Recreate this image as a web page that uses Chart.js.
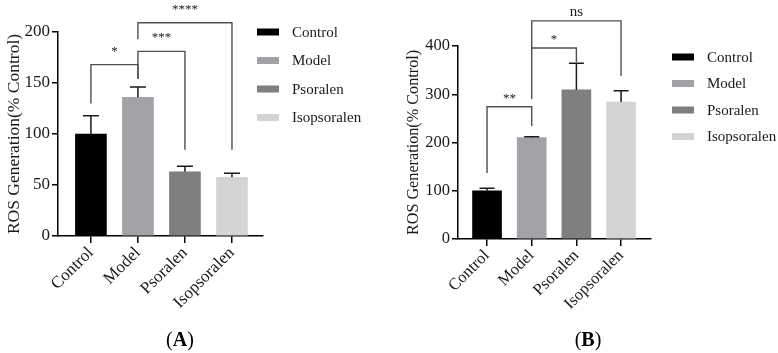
<!DOCTYPE html>
<html lang="en">
<head>
  <meta charset="UTF-8" />
  <title>ROS Generation</title>
  <script src="https://cdn.jsdelivr.net/npm/chart.js"></script>
  <style>
    body { margin: 0; background: #fff; }
    .wrap { display: flex; width: 778px; height: 353px; }
    canvas { display: block; }
  </style>
</head>
<body>
  <div class="wrap">
    <canvas id="chartA" width="389" height="353"></canvas>
    <canvas id="chartB" width="389" height="353"></canvas>
  </div>

  <script>
    // groups (same in both panels)
    const categories = ['Control', 'Model', 'Psoralen', 'Isopsoralen'];
    const barColors = ['#000000', '#a2a2a7', '#7f7f7f', '#d4d4d4'];

    // panel A: mean values and top of error bars
    const rosA = [100, 136, 63, 57.5];
    const errTopA = [118, 146, 68.5, 61.5];
    const yTicksA = [0, 50, 100, 150, 200];
    // significance brackets: from group, to group, bar level, left leg end, right leg end
    const sigA = [
      { from: 0, to: 1, level: 168, leftEnd: 130, rightEnd: 154, label: '*' },
      { from: 1, to: 2, level: 181, leftEnd: 154, rightEnd: 84.5, label: '***' },
      { from: 1, to: 3, level: 209, leftEnd: 193, rightEnd: 84.5, label: '****' }
    ];

    // panel B
    const rosB = [100, 210, 309, 284];
    const errTopB = [105, 212, 364, 307];
    const yTicksB = [0, 100, 200, 300, 400];
    const sigB = [
      { from: 0, to: 1, level: 274, leftEnd: 137, rightEnd: 234, label: '**' },
      { from: 1, to: 2, level: 396, leftEnd: 290, rightEnd: 367, label: '*' },
      { from: 1, to: 3, level: 452, leftEnd: 396, rightEnd: 338, label: 'ns' }
    ];

    const serif = "'Liberation Serif', 'Times New Roman', serif";
    const ink = '#1a1a1a';

    const extrasPlugin = {
      id: 'extras',
      afterDatasetsDraw(chart) {
        const o = chart.options.plugins.extras;
        const { ctx } = chart;
        const xs = chart.scales.x, ys = chart.scales.y;
        ctx.save();
        ctx.strokeStyle = ink;
        ctx.lineWidth = 1.5;
        o.errTop.forEach((top, i) => {
          const x = xs.getPixelForValue(i);
          const y1 = ys.getPixelForValue(o.values[i]);
          const y2 = ys.getPixelForValue(top);
          ctx.beginPath();
          ctx.moveTo(x, y1);
          ctx.lineTo(x, y2);
          ctx.moveTo(x - o.capWidth / 2, y2);
          ctx.lineTo(x + o.capWidth / 2, y2);
          ctx.stroke();
        });
        ctx.restore();
      },
      afterDraw(chart) {
        const o = chart.options.plugins.extras;
        const { ctx } = chart;
        const xs = chart.scales.x, ys = chart.scales.y;
        ctx.save();

        // significance brackets
        ctx.strokeStyle = '#505050';
        ctx.lineWidth = 1.4;
        o.sig.forEach(s => {
          const xl = xs.getPixelForValue(s.from);
          const xr = xs.getPixelForValue(s.to);
          const yl = ys.getPixelForValue(s.level);
          ctx.beginPath();
          ctx.moveTo(xl, ys.getPixelForValue(s.leftEnd));
          ctx.lineTo(xl, yl);
          ctx.lineTo(xr, yl);
          ctx.lineTo(xr, ys.getPixelForValue(s.rightEnd));
          ctx.stroke();
          const isNs = s.label === 'ns';
          ctx.fillStyle = ink;
          ctx.font = (isNs ? 15 : 13) + 'px ' + serif;
          ctx.textAlign = 'center';
          ctx.textBaseline = 'alphabetic';
          ctx.fillText(s.label, (xl + xr) / 2, yl - (isNs ? 5 : o.starGap));
        });

        // legend
        ctx.font = '15px ' + serif;
        ctx.textAlign = 'left';
        ctx.textBaseline = 'middle';
        categories.forEach((c, i) => {
          const y = o.legend.y0 + i * o.legend.step;
          ctx.fillStyle = barColors[i];
          ctx.fillRect(o.legend.x, y - 3.5, 22, 7);
          ctx.fillStyle = ink;
          ctx.fillText(c, o.legend.x + 35, y + 1);
        });

        // panel letter
        ctx.textBaseline = 'alphabetic';
        const normal = '20px ' + serif, bold = 'bold 20px ' + serif;
        ctx.font = normal;
        const wp = ctx.measureText('(').width;
        const wc = ctx.measureText(')').width;
        ctx.font = bold;
        const wl = ctx.measureText(o.letter).width;
        let x = o.letterX - (wp + wl + wc) / 2;
        ctx.fillStyle = '#000';
        ctx.font = normal; ctx.fillText('(', x, 346); x += wp;
        ctx.font = bold; ctx.fillText(o.letter, x, 346); x += wl;
        ctx.font = normal; ctx.fillText(')', x, 346);
        ctx.restore();
      }
    };

    function makeChart(id, p) {
      return new Chart(document.getElementById(id), {
        type: 'bar',
        data: {
          datasets: [{
            data: p.values.map((v, i) => ({ x: i, y: v })),
            backgroundColor: barColors,
            borderWidth: 0,
            barThickness: p.barWidth
          }]
        },
        options: {
          responsive: false,
          animation: false,
          layout: { padding: { top: p.top, right: p.right, left: 0, bottom: 0 } },
          plugins: {
            legend: { display: false },
            tooltip: { enabled: false },
            extras: {
              values: p.values, errTop: p.errTop, sig: p.sig, capWidth: p.capWidth,
              starGap: p.starGap, legend: p.legend, letter: p.letter, letterX: p.letterX
            }
          },
          scales: {
            x: {
              type: 'linear',
              offset: false,
              min: p.xMin,
              max: p.xMax,
              afterBuildTicks: s => { s.ticks = categories.map((c, i) => ({ value: i })); },
              afterFit: s => { s.height = p.xHeight; },
              ticks: {
                callback: v => categories[v],
                autoSkip: false,
                minRotation: 45,
                maxRotation: 45,
                padding: 0,
                color: ink,
                font: { family: serif, size: p.tickSize }
              },
              grid: { offset: false, drawOnChartArea: false, tickLength: 7, color: '#000', lineWidth: 1.5 },
              border: { color: '#000', width: 1.5 }
            },
            y: {
              min: 0,
              max: p.yTicks[p.yTicks.length - 1],
              afterBuildTicks: s => { s.ticks = p.yTicks.map(v => ({ value: v })); },
              afterFit: s => { s.width = p.yWidth; },
              ticks: { padding: 2, color: ink, font: { family: serif, size: p.tickSize } },
              grid: { drawOnChartArea: false, tickLength: 6, color: '#000', lineWidth: 1.5 },
              border: { color: '#000', width: 1.5 },
              title: {
                display: true,
                text: 'ROS Generation(% Control)',
                color: ink,
                padding: { top: p.titlePad, bottom: 0 },
                font: { family: serif, size: p.titleSize }
              }
            }
          }
        },
        plugins: [extrasPlugin]
      });
    }

    makeChart('chartA', {
      values: rosA, errTop: errTopA, yTicks: yTicksA, sig: sigA,
      top: 32, right: 126, yWidth: 58, xHeight: 117, xMin: -0.70, xMax: 3.66,
      barWidth: 31, capWidth: 16, starGap: 10, tickSize: 17, titleSize: 17.5, titlePad: 4,
      legend: { x: 257, y0: 32, step: 28.5 }, letter: 'A', letterX: 180
    });

    makeChart('chartB', {
      values: rosB, errTop: errTopB, yTicks: yTicksB, sig: sigB,
      top: 46, right: 127, yWidth: 69, xHeight: 114, xMin: -0.65, xMax: 3.67,
      barWidth: 29, capWidth: 15, starGap: 5, tickSize: 16.5, titleSize: 16.2, titlePad: 15,
      legend: { x: 283, y0: 57, step: 26.5 }, letter: 'B', letterX: 199
    });
  </script>
</body>
</html>
